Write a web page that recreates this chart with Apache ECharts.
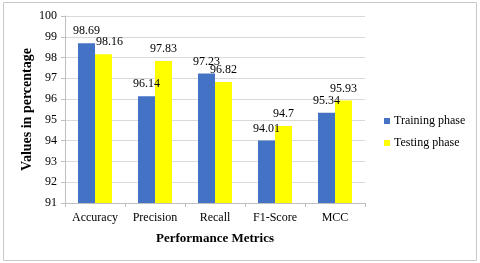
<!DOCTYPE html>
<html><head><meta charset="utf-8">
<script src="https://cdn.jsdelivr.net/npm/echarts@6/dist/echarts.min.js"></script>
<style>html,body{margin:0;padding:0;background:#fff}#c{width:480px;height:263px}</style>
</head><body><div id="c"></div>
<script>
const categories = ['Accuracy', 'Precision', 'Recall', 'F1-Score', 'MCC'];
const trainingValues = [98.69, 96.14, 97.23, 94.01, 95.34];
const testingValues = [98.16, 97.83, 96.82, 94.7, 95.93];
const yTicks = [91, 92, 93, 94, 95, 96, 97, 98, 99, 100];

const font = '"Liberation Serif", "Times New Roman", serif';
const chart = echarts.init(document.getElementById('c'), null, {renderer: 'canvas'});
const testingData = testingValues.map((v, i) => i === 0 ? {value: v, label: {offset: [6, 0]}} : v);
chart.setOption({
  animation: false,
  textStyle: {fontFamily: font, color: '#000'},
  graphic: [{type: 'rect', shape: {x: 3.5, y: 2.5, width: 473, height: 258}, style: {fill: 'none', stroke: '#c8c8c8', lineWidth: 1}, silent: true}],
  grid: {left: 65, top: 16, width: 300, height: 187},
  legend: {
    orient: 'vertical', left: 379, top: 110, itemWidth: 6, itemHeight: 6, itemGap: 10,
    icon: 'rect',
    textStyle: {fontFamily: font, fontSize: 12, color: '#000', padding: [0, 0, 0, -1]},
    data: ['Training phase', 'Testing phase']
  },
  xAxis: {
    type: 'category', data: categories,
    name: 'Performance Metrics', nameLocation: 'middle', nameGap: 29,
    nameTextStyle: {fontFamily: font, fontSize: 13, fontWeight: 'bold', color: '#000'},
    axisLine: {lineStyle: {color: '#bfbfbf'}},
    axisTick: {show: true, length: 4, lineStyle: {color: '#bfbfbf'}},
    axisLabel: {fontFamily: font, fontSize: 12, color: '#000', margin: 9}
  },
  yAxis: {
    type: 'value', min: 91, max: 100, interval: 1,
    name: 'Values in percentage', nameLocation: 'middle', nameGap: 31, nameMoveOverlap: false,
    nameTextStyle: {fontFamily: font, fontSize: 14, fontWeight: 'bold', color: '#000'},
    axisLine: {show: true, lineStyle: {color: '#bfbfbf'}},
    axisTick: {show: true, length: 4, lineStyle: {color: '#bfbfbf'}},
    axisLabel: {fontFamily: font, fontSize: 12, color: '#000', margin: 8,
      formatter: v => yTicks.includes(v) ? String(v) : ''},
    splitLine: {lineStyle: {color: '#d9d9d9'}}
  },
  series: [
    {name: 'Training phase', type: 'bar', data: trainingValues, barWidth: 17, barGap: '0%',
     itemStyle: {color: '#4472C4'},
     label: {show: true, position: 'top', distance: 6, fontFamily: font, fontSize: 12, color: '#000'}},
    {name: 'Testing phase', type: 'bar', data: testingData, barWidth: 17,
     itemStyle: {color: '#FFFF00'},
     label: {show: true, position: 'top', distance: 6, fontFamily: font, fontSize: 12, color: '#000'}}
  ]
});
</script></body></html>
